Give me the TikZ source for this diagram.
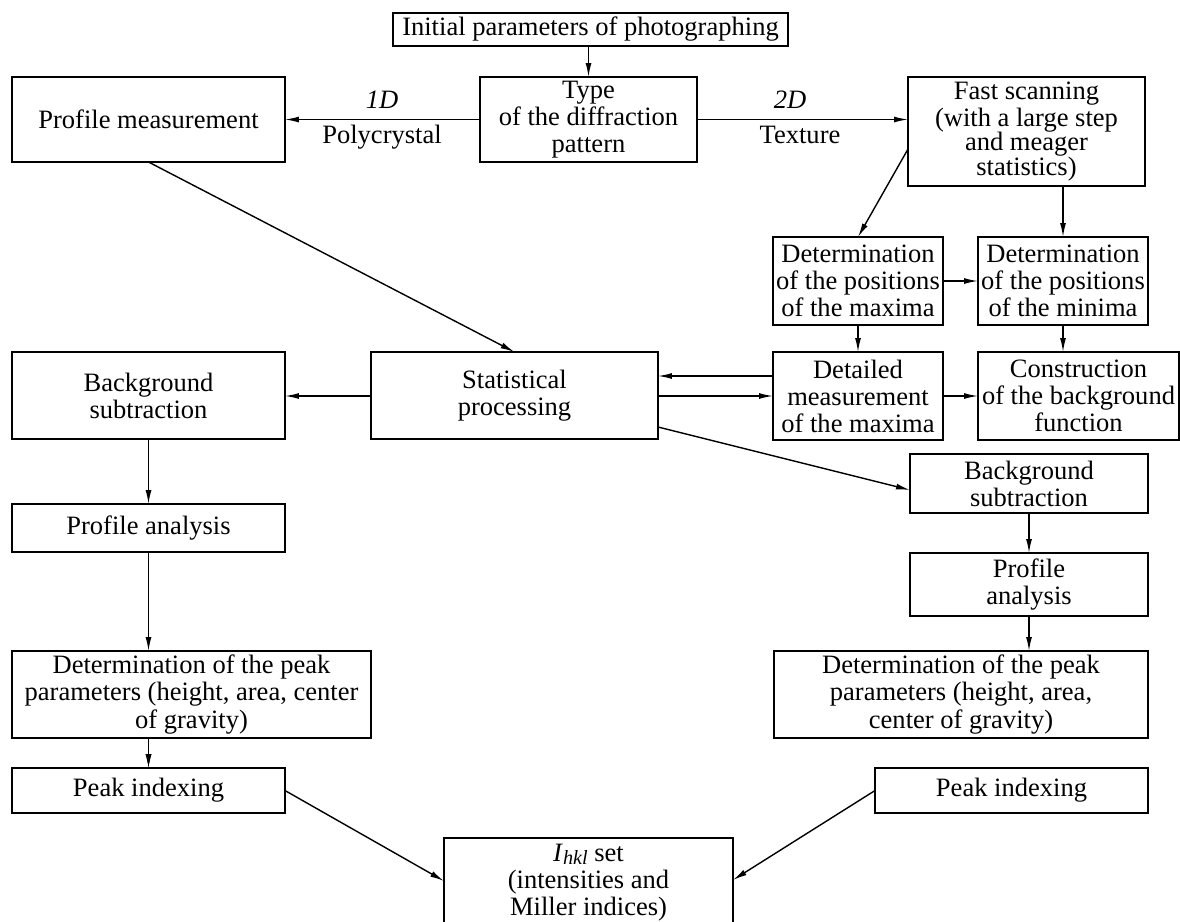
\documentclass[tikz,border=0pt]{standalone}
\usepackage{fontspec}
\setmainfont{Liberation Serif}
\usetikzlibrary{arrows.meta,calc}
\begin{document}
\begin{tikzpicture}[x=0.02cm,y=-0.02cm,
  every node/.style={font=\fontsize{15.1pt}{15.4pt}\selectfont},
  box/.style={draw,line width=0.8pt,inner sep=0pt,outer sep=0pt,align=center},
  arr/.style={line width=0.8pt,-{Latex[length=2.8mm,width=1.2mm]}},
  lab/.style={anchor=base,inner sep=0pt}]
\useasboundingbox (0,0) rectangle (1180,921);
\node[box,minimum width=7.9cm,minimum height=0.66cm] (init) at (590.5,29.5) {Initial parameters of photographing};
\node[box,minimum width=4.34cm,minimum height=1.7cm] (type) at (588.5,119.5) {Type\\of the diffraction\\pattern};
\node[box,minimum width=5.46cm,minimum height=1.7cm] (pm) at (148.5,119.5) {Profile measurement};
\node[box,minimum width=4.74cm,minimum height=2.18cm] (fast) at (1026.5,131.5) {Fast scanning\\(with a large step\\[-1.6pt]and meager\\[-1.6pt]statistics)};
\node[box,minimum width=3.4cm,minimum height=1.76cm] (dmax) at (858,281) {Determination\\of the positions\\of the maxima};
\node[box,minimum width=3.4cm,minimum height=1.76cm] (dmin) at (1063,281) {Determination\\of the positions\\of the minima};
\node[box,minimum width=3.4cm,minimum height=1.76cm] (detm) at (858,396) {Detailed\\measurement\\of the maxima};
\node[box,minimum width=4.02cm,minimum height=1.76cm] (constr) at (1078.5,396) {Construction\\of the background\\function};
\node[box,minimum width=5.74cm,minimum height=1.74cm] (stat) at (514.5,395.5) {Statistical\\processing};
\node[box,minimum width=5.46cm,minimum height=1.74cm] (bgl) at (148.5,395.5) {Background\\subtraction};
\node[box,minimum width=4.76cm,minimum height=1.18cm] (bgr) at (1029,483.5) {Background\\subtraction};
\node[box,minimum width=5.46cm,minimum height=0.96cm] (pal) at (148.5,528) {Profile analysis};
\node[box,minimum width=4.76cm,minimum height=1.26cm] (par) at (1029,584.5) {Profile\\analysis};
\node[box,minimum width=7.18cm,minimum height=1.74cm] (dpl) at (191.5,694.5) {Determination of the peak\\parameters (height, area, center\\of gravity)};
\node[box,minimum width=7.48cm,minimum height=1.74cm] (dpr) at (961,694.5) {Determination of the peak\\parameters (height, area,\\center of gravity)};
\node[box,minimum width=5.46cm,minimum height=0.9cm] (pil) at (148.5,790.5) {Peak indexing};
\node[box,minimum width=5.46cm,minimum height=0.9cm] (pir) at (1011.5,790.5) {Peak indexing};
\node[box,minimum width=5.78cm,minimum height=1.8cm] (ihkl) at (588.5,883) {\textit{I}\raisebox{-0.25ex}{\fontsize{11.5pt}{11.5pt}\selectfont\textit{hkl}} set\\(intensities and\\Miller indices)};
\node[lab] (l1d) at (382,108) {\textit{1D}};
\node[lab] (lpoly) at (382,143) {Polycrystal};
\node[lab] (l2d) at (790,108) {\textit{2D}};
\node[lab] (ltex) at (800,143) {Texture};
\draw[arr] (type.north |- init.south) -- (type.north);
\draw[arr] (type.west) -- (pm.east);
\draw[arr] (type.east) -- (fast.west |- type.east);
\draw[arr] (pm.south) -- (stat.north);
\draw[arr] ($(fast.west)+(0,17.5)$) -- (dmax.north);
\draw[arr] (dmin.north |- fast.south) -- (dmin.north);
\draw[arr] (dmax.east) -- (dmin.west);
\draw[arr] (dmax.south) -- (detm.north);
\draw[arr] (dmin.south) -- (dmin.south |- constr.north);
\draw[arr] (detm.east) -- (constr.west);
\draw[arr] (detm.west |- 0,376) -- (stat.east |- 0,376);
\draw[arr] (stat.east |- 0,396) -- (detm.west |- 0,396);
\draw[arr] (stat.west |- 0,396) -- (bgl.east |- 0,396);
\draw[arr] ($(stat.east)+(0,31.5)$) -- ($(bgr.west)+(0,6.5)$);
\draw[arr] (bgl.south) -- (pal.north);
\draw[arr] (pal.south) -- (pal.south |- dpl.north);
\draw[arr] (bgr.south) -- (par.north);
\draw[arr] (par.south) -- (par.south |- dpr.north);
\draw[arr] (pil.north |- dpr.south) -- (pil.north);
\draw[arr] (pil.north |- dpl.south) -- (pil.north);
\draw[arr] (pil.east) -- ($(ihkl.west)+(0,-2)$);
\draw[arr] (pir.west) -- ($(ihkl.east)+(0,-3)$);
\end{tikzpicture}
\end{document}
